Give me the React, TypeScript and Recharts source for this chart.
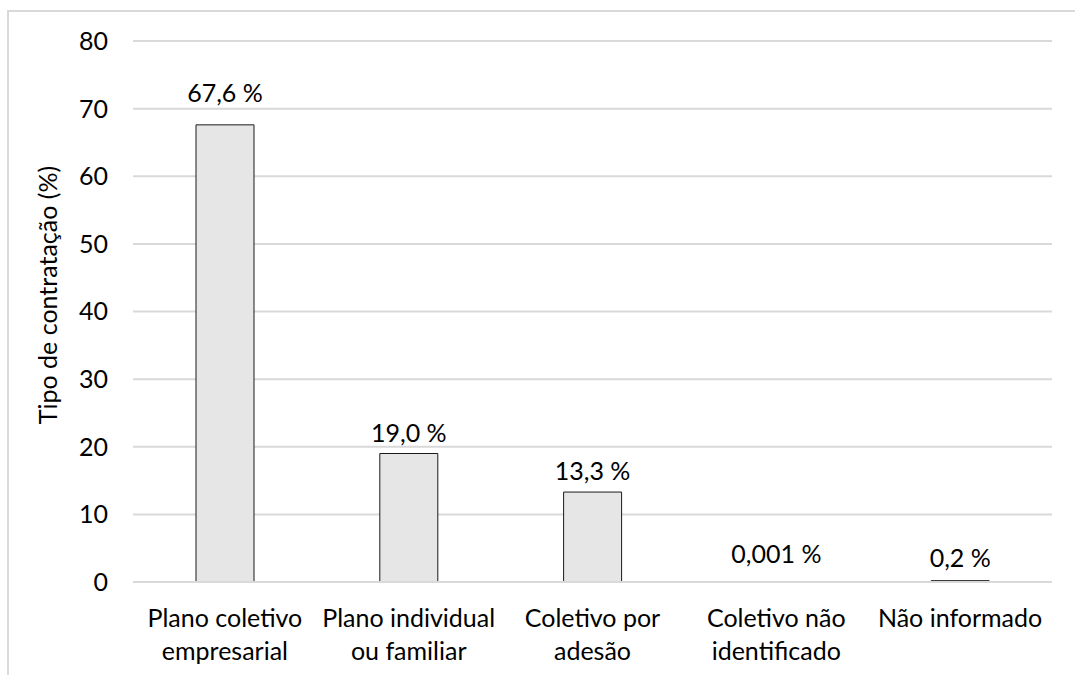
import React from "react";
import { BarChart, Bar, XAxis, YAxis, CartesianGrid, LabelList } from "recharts";

// categories (line breaks as in the original axis labels)
const categories = [
  "Plano coletivo\nempresarial",
  "Plano individual\nou familiar",
  "Coletivo por\nadesão",
  "Coletivo não\nidentificado",
  "Não informado",
];
const shares = [67.6, 19.0, 13.3, 0.001, 0.2];
const yTicks = [0, 10, 20, 30, 40, 50, 60, 70, 80];

// label distance above each bar (style only)
const labelOffsets = [23, 12, 12, 19, 14];

const data = categories.map((name, i) => ({ name, value: shares[i] }));

const FONT = "Lato, 'Open Sans', sans-serif";
const FS = 25;
const GRID = "#D9D9D9";

const fmt = (v: number) =>
  (v < 0.01 ? v.toFixed(3) : v.toFixed(1)).replace(".", ",") + " %";

const CategoryTick = ({ x, y, payload }: any) => {
  const lines = String(payload.value).split("\n");
  return (
    <text x={x} y={y + 43} textAnchor="middle" fill="#000" fontSize={FS} fontFamily={FONT}>
      {lines.map((l, i) => (
        <tspan key={i} x={x} dy={i === 0 ? 0 : 33}>
          {l}
        </tspan>
      ))}
    </text>
  );
};

const ValueLabel = ({ x, y, width, value, index }: any) => (
  <text
    x={x + width / 2}
    y={y - labelOffsets[index]}
    textAnchor="middle"
    fill="#000"
    fontSize={FS}
    fontFamily={FONT}
  >
    {fmt(value)}
  </text>
);

export default function App() {
  return (
    <div
      style={{
        position: "fixed",
        left: 0,
        top: 0,
        width: 1075,
        height: 675,
        overflow: "hidden",
        background: "#fff",
      }}
    >
      <div
        style={{
          position: "absolute",
          left: 7,
          top: 10,
          width: 1100,
          height: 700,
          border: `2px solid ${GRID}`,
        }}
      />
      <div style={{ position: "absolute", left: 0, top: 0 }}>
        <BarChart
          width={1075}
          height={675}
          data={data}
          margin={{ top: 41, right: 23, bottom: 0, left: 0 }}
          barCategoryGap={0}
        >
          <CartesianGrid vertical={false} stroke={GRID} strokeWidth={2} />
          <XAxis
            dataKey="name"
            height={93}
            interval={0}
            tickLine={false}
            tickSize={0}
            axisLine={{ stroke: GRID, strokeWidth: 2 }}
            tick={<CategoryTick />}
          />
          <YAxis
            width={133}
            domain={[0, 80]}
            ticks={yTicks}
            interval={0}
            axisLine={false}
            tickLine={false}
            tickSize={0}
            tickMargin={25}
            tick={{ fill: "#000", fontSize: FS, fontFamily: FONT }}
            label={{
              content: () => (
                <text
                  x={47}
                  y={295}
                  transform="rotate(-90 47 295)"
                  textAnchor="middle"
                  dominantBaseline="central"
                  fill="#000"
                  fontSize={FS}
                  fontFamily={FONT}
                >
                  Tipo de contratação (%)
                </text>
              ),
            }}
          />
          <Bar
            dataKey="value"
            fill="#E7E6E6"
            stroke="#1a1a1a"
            strokeWidth={1}
            barSize={58}
            isAnimationActive={false}
          >
            <LabelList dataKey="value" content={<ValueLabel />} />
          </Bar>
        </BarChart>
      </div>
    </div>
  );
}
